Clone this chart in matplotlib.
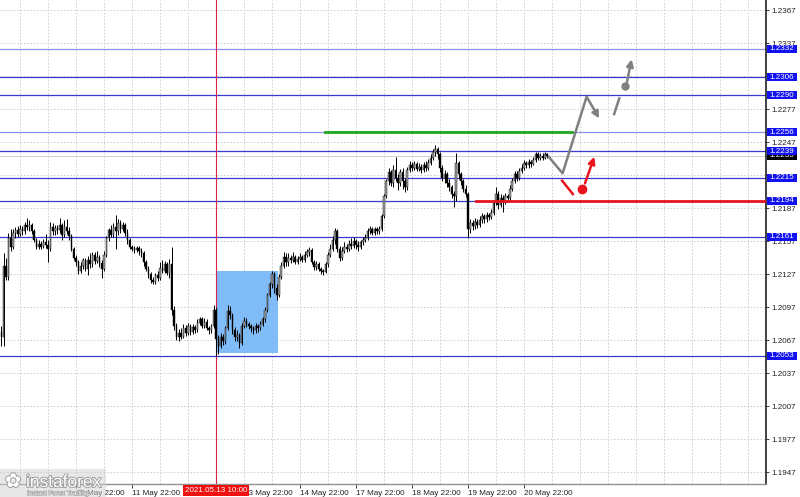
import numpy as np
import matplotlib.pyplot as plt
import matplotlib.patheffects as pe

plt.rcParams['font.family'] = ['Liberation Sans', 'DejaVu Sans']

# H1 candles, prices given in pips above 1.2000
opens = [75, 70, 135, 125, 160, 152, 165, 167, 164, 168,
         166, 172, 170, 172, 166, 158, 152, 155, 152, 156,
         154, 150, 170, 166, 169, 167, 172, 163, 170, 166,
         162, 150, 142, 138, 130, 135, 140, 132, 140, 136,
         145, 139, 143, 137, 132, 145, 160, 167, 163, 170,
         166, 174, 168, 172, 165, 158, 152, 150, 149, 151,
         148, 146, 138, 132, 127, 122, 120, 126, 124, 133,
         130, 136, 128, 136, 95, 80, 70, 74, 70, 78,
         74, 80, 75, 79, 76, 83, 86, 80, 84, 78,
         76, 80, 95, 68, 62, 70, 66, 78, 94, 90,
         76, 70, 72, 65, 80, 85, 82, 80, 78, 76,
         80, 78, 82, 86, 95, 108, 118, 127, 115, 108,
         125, 135, 143, 138, 142, 140, 143, 138, 141, 143,
         140, 145, 147, 149, 138, 134, 136, 132, 130, 129,
         136, 145, 150, 158, 166, 150, 142, 148, 152, 150,
         155, 153, 157, 154, 152, 156, 158, 160, 166, 168,
         165, 168, 166, 168, 180, 198, 212, 220, 210, 222,
         215, 210, 220, 212, 206, 222, 226, 224, 227, 223,
         225, 222, 226, 224, 228, 233, 238, 241, 236, 224,
         215, 218, 210, 206, 200, 198, 228, 218, 212, 205,
         200, 168, 174, 171, 175, 172, 176, 180, 177, 181,
         179, 183, 192, 200, 190, 196, 193, 198, 196, 205,
         212, 218, 215, 221, 224, 228, 226, 229, 227, 231,
         236, 233, 235, 233, 236]
closes = [70, 135, 125, 160, 152, 165, 167, 164, 168, 166,
          172, 170, 172, 166, 158, 152, 155, 152, 156, 154,
          150, 170, 166, 169, 167, 172, 163, 170, 166, 162,
          150, 142, 138, 130, 135, 140, 132, 140, 136, 145,
          139, 143, 137, 132, 145, 160, 167, 163, 170, 166,
          174, 168, 172, 165, 158, 152, 150, 149, 151, 148,
          146, 138, 132, 127, 122, 120, 126, 124, 133, 130,
          136, 128, 136, 95, 80, 70, 74, 70, 78, 74,
          80, 75, 79, 76, 83, 86, 80, 84, 78, 76,
          80, 95, 68, 62, 70, 66, 78, 94, 90, 76,
          70, 72, 65, 80, 85, 82, 80, 78, 76, 80,
          78, 82, 86, 95, 108, 118, 127, 115, 108, 125,
          135, 143, 138, 142, 140, 143, 138, 141, 143, 140,
          145, 147, 149, 138, 134, 136, 132, 130, 129, 136,
          145, 150, 158, 166, 150, 142, 148, 152, 150, 155,
          153, 157, 154, 152, 156, 158, 160, 166, 168, 165,
          168, 166, 168, 180, 198, 212, 220, 210, 222, 215,
          210, 220, 212, 206, 222, 226, 224, 227, 223, 225,
          222, 226, 224, 228, 233, 238, 241, 236, 224, 215,
          218, 210, 206, 200, 198, 228, 218, 212, 205, 200,
          168, 174, 171, 175, 172, 176, 180, 177, 181, 179,
          183, 192, 200, 190, 196, 193, 198, 196, 205, 212,
          218, 215, 221, 224, 228, 226, 229, 227, 231, 236,
          233, 235, 233, 236, 235]
highs = [80, 146, 142, 165, 168, 168, 170, 171, 172, 171,
         175, 178, 176, 174, 168, 160, 158, 157, 159, 164,
         158, 175, 174, 172, 172, 178, 174, 176, 177, 170,
         164, 152, 145, 140, 138, 142, 142, 144, 146, 147,
         147, 148, 145, 140, 148, 162, 169, 172, 174, 181,
         177, 176, 175, 174, 168, 160, 154, 153, 153, 153,
         151, 148, 140, 135, 129, 125, 128, 130, 138, 140,
         139, 138, 141, 152, 98, 83, 77, 78, 82, 81,
         83, 82, 82, 81, 86, 88, 88, 87, 86, 80,
         82, 99, 97, 72, 74, 73, 80, 99, 98, 92,
         79, 76, 74, 83, 88, 87, 84, 82, 80, 83,
         82, 85, 88, 97, 110, 120, 130, 129, 118, 127,
         138, 147, 146, 146, 145, 147, 145, 144, 146, 145,
         148, 150, 152, 151, 140, 139, 138, 134, 132, 138,
         147, 155, 162, 169, 168, 153, 152, 156, 155, 158,
         160, 161, 159, 157, 158, 161, 164, 169, 171, 170,
         170, 170, 171, 182, 200, 214, 224, 222, 226, 234,
         218, 223, 224, 215, 225, 230, 229, 230, 229, 228,
         227, 229, 230, 232, 236, 241, 245, 243, 238, 226,
         222, 220, 214, 208, 203, 237, 230, 220, 214, 208,
         202, 177, 176, 178, 177, 180, 183, 182, 184, 183,
         186, 195, 206, 203, 200, 199, 201, 200, 208, 215,
         221, 221, 224, 227, 231, 230, 232, 231, 234, 238,
         238, 237, 237, 238, 237]
lows = [62, 62, 122, 122, 148, 150, 160, 161, 162, 163,
        164, 167, 166, 164, 156, 150, 150, 150, 151, 151,
        138, 148, 163, 163, 164, 165, 158, 161, 164, 158,
        148, 140, 135, 127, 128, 132, 130, 126, 133, 134,
        136, 137, 134, 124, 130, 143, 157, 161, 161, 150,
        163, 165, 166, 162, 155, 150, 148, 146, 147, 145,
        143, 135, 130, 124, 119, 118, 118, 121, 122, 128,
        128, 126, 124, 90, 76, 67, 66, 68, 69, 71,
        72, 72, 73, 74, 75, 81, 78, 78, 76, 73,
        74, 78, 53, 55, 60, 63, 64, 76, 86, 73,
        66, 66, 60, 63, 78, 79, 77, 75, 73, 74,
        75, 76, 80, 84, 93, 106, 115, 110, 104, 106,
        123, 133, 135, 135, 137, 138, 136, 136, 139, 138,
        138, 143, 144, 136, 131, 131, 130, 127, 126, 128,
        134, 143, 148, 155, 147, 139, 140, 146, 147, 148,
        150, 151, 150, 148, 150, 154, 156, 158, 164, 163,
        163, 164, 164, 166, 178, 196, 208, 207, 206, 212,
        204, 207, 205, 202, 204, 220, 221, 222, 221, 221,
        219, 220, 221, 222, 226, 231, 235, 232, 220, 212,
        210, 206, 203, 196, 188, 194, 214, 208, 202, 197,
        160, 165, 167, 168, 169, 170, 174, 174, 175, 176,
        177, 181, 190, 186, 188, 184, 191, 193, 194, 203,
        210, 212, 213, 219, 222, 224, 224, 225, 226, 229,
        231, 231, 231, 232, 233]

levels = [1.2332, 1.2306, 1.2290, 1.2256, 1.2239, 1.2215, 1.2194, 1.2161, 1.2053]
light_levels = [1.2332, 1.2256]
price_ticks = [1.2367, 1.2337, 1.2307, 1.2277, 1.2247, 1.2217, 1.2187, 1.2157,
               1.2127, 1.2097, 1.2067, 1.2037, 1.2007, 1.1977, 1.1947]
hidden_ticks = [1.2307, 1.2217]   # fully covered by level boxes in the terminal
bid = 1.2235

# bar index of the time labels (one label every 24 H1 bars)
time_ticks = [32, 56, 80, 104, 128, 152, 176, 200, 224]
time_labels = ['10 May 22:00', '11 May 22:00', '', '13 May 22:00',
               '14 May 22:00', '17 May 22:00', '18 May 22:00', '19 May 22:00',
               '20 May 22:00']
event_bar = 92
event_label = '2021.05.13 10:00'

# forecast sketch (bar index, price)
gray_path_x = [234.4, 240.6, 250.9]
gray_path_y = [1.22345, 1.22188, 1.22885]
gray_tip = (256.3, 1.22688)
gray_dash_x = [262.7, 264.9]
gray_dash_y = [1.22727, 1.22870]
gray_dot = (267.3, 1.22983)
gray_arrow = ((268.2, 1.23018), (270.2, 1.23225))
red_dash_x = [240.4, 245.0]
red_dash_y = [1.22121, 1.22000]
red_dot = (248.8, 1.22050)
red_arrow = ((250.2, 1.22097), (254.2, 1.22339))

o = 1.2 + np.array(opens) / 10000
c = 1.2 + np.array(closes) / 10000
h = 1.2 + np.array(highs) / 10000
l = 1.2 + np.array(lows) / 10000
idx = np.arange(len(o))

fig = plt.figure(figsize=(8, 4.97), dpi=100)
ax = fig.add_axes([0, 13 / 497, 766 / 800, 484 / 497])
ax.set_xlim(-0.57, 327.8)
ax.set_ylim(1.19364, 1.23764)

# grid
for gx in range(8, 328, 12):
    ax.axvline(gx, color='#c8c8c8', lw=0.6, ls=(0, (2, 2)), zorder=0)
for gy in price_ticks:
    ax.axhline(gy, color='#c8c8c8', lw=0.6, ls=(0, (2, 2)), zorder=0)

# highlighted zone
ax.add_patch(plt.Rectangle((event_bar, 1.20555), 118.6 - event_bar, 1.2130 - 1.20555,
                           facecolor='#80bcf8', edgecolor='none', zorder=1))

# levels
for lv in levels:
    col = '#9090f0' if lv in light_levels else '#3a3ad0'
    ax.axhline(lv, color=col, lw=0.9, zorder=2)
ax.axhline(bid, color='#c8c8c8', lw=0.6, zorder=2)
ax.axvline(event_bar, color='#e0204a', lw=0.8, zorder=2)

# candles
bull = c >= o
ax.vlines(idx, l, h, color='black', lw=0.7, zorder=3)
body_low = np.minimum(o, c)
body_h = np.maximum(np.abs(c - o), 0.00004)
ax.bar(idx[bull], body_h[bull], bottom=body_low[bull], width=0.65,
       color='#a0a0a0', edgecolor='black', linewidth=0.3, zorder=4)
ax.bar(idx[~bull], body_h[~bull], bottom=body_low[~bull], width=0.65,
       color='black', edgecolor='black', linewidth=0.3, zorder=4)

# forecast lines
ax.plot([138.7, 244.6], [1.2256, 1.2256], color='#1fa51f', lw=2.0, zorder=5)
ax.plot([203.4, 327.8], [1.2194, 1.2194], color='#e8141e', lw=2.0, zorder=5)
ax.plot(gray_path_x, gray_path_y, color='#808080', lw=1.8, zorder=6,
        solid_capstyle='butt')
ax.annotate('', xy=gray_tip, xytext=(gray_path_x[-1], gray_path_y[-1]),
            arrowprops=dict(arrowstyle='-|>', color='#808080', lw=1.8,
                            mutation_scale=10, shrinkA=0, shrinkB=0), zorder=6)
ax.plot(gray_dash_x, gray_dash_y, color='#808080', lw=1.8, zorder=6)
ax.plot(*gray_dot, 'o', color='#808080', ms=5, zorder=6)
ax.annotate('', xy=gray_arrow[1], xytext=gray_arrow[0],
            arrowprops=dict(arrowstyle='-|>', color='#808080', lw=1.8,
                            mutation_scale=10, shrinkA=0, shrinkB=0), zorder=6)
ax.plot(red_dash_x, red_dash_y, color='#e8141e', lw=1.8, zorder=6)
ax.plot(*red_dot, 'o', color='#e8141e', ms=6, zorder=6)
ax.annotate('', xy=red_arrow[1], xytext=red_arrow[0],
            arrowprops=dict(arrowstyle='-|>', color='#e8141e', lw=1.8,
                            mutation_scale=10, shrinkA=0, shrinkB=0), zorder=6)

# axes look
for s in ['top', 'left']:
    ax.spines[s].set_visible(False)
ax.spines['right'].set_color('#202020')
ax.spines['right'].set_linewidth(1.2)
ax.spines['bottom'].set_color('#909090')
ax.spines['bottom'].set_linewidth(1.0)

ax.yaxis.tick_right()
ax.set_yticks(price_ticks)
ax.set_yticklabels(['' if t in hidden_ticks else f'{t:.4f}' for t in price_ticks])
ax.tick_params(axis='y', length=2, width=0.6, pad=2, labelsize=5.8, colors='#202020')
ax.set_xticks(time_ticks)
ax.set_xticklabels(time_labels, ha='left')
ax.tick_params(axis='x', length=3, width=0.6, pad=1.5, labelsize=5.8, colors='#202020')

# price boxes on the right scale
box_x, box_w, box_h = 1.0013, 30 / 766, 0.00072


def price_box(price, face, z):
    ax.add_patch(plt.Rectangle((box_x, price - box_h / 2), box_w, box_h,
                               transform=ax.get_yaxis_transform(), facecolor=face,
                               edgecolor='none', clip_on=False, zorder=z))
    ax.text(box_x + box_w / 2, price, f'{price:.4f}', transform=ax.get_yaxis_transform(),
            fontsize=5.8, color='white', va='center', ha='center', clip_on=False,
            zorder=z + 0.5)


price_box(bid, 'black', 7)
for lv in levels:
    price_box(lv, '#1212f0', 8)

# event time box
ax.text(event_bar, -0.006, event_label, transform=ax.get_xaxis_transform(),
        fontsize=5.8, color='white', va='top', ha='center', clip_on=False, zorder=8,
        bbox=dict(boxstyle='square,pad=0.25', fc='#f01010', ec='none'))

# logo
fig.patches.append(plt.Rectangle((0, 0), 106 / 800, 28 / 497, transform=fig.transFigure,
                                 facecolor='#d0d0d0', alpha=0.5, edgecolor='none', zorder=9))
stroke = [pe.withStroke(linewidth=1.3, foreground='#9a9a9a')]
fig.text(5 / 800, 10 / 497, '\u273F', fontsize=14, color='white', ha='left', va='baseline',
         path_effects=stroke, family='DejaVu Sans', zorder=10)
fig.text(26 / 800, 10 / 497, 'instaforex', fontsize=12.5, color='white', ha='left',
         va='baseline', path_effects=stroke, zorder=10)
fig.text(27 / 800, 2 / 497, 'Instant Forex Trading', fontsize=4.7, color='#f4f4f4',
         ha='left', va='baseline',
         path_effects=[pe.withStroke(linewidth=0.8, foreground='#a0a0a0')], zorder=10)

fig.savefig('out.png', dpi=100, facecolor='white')
